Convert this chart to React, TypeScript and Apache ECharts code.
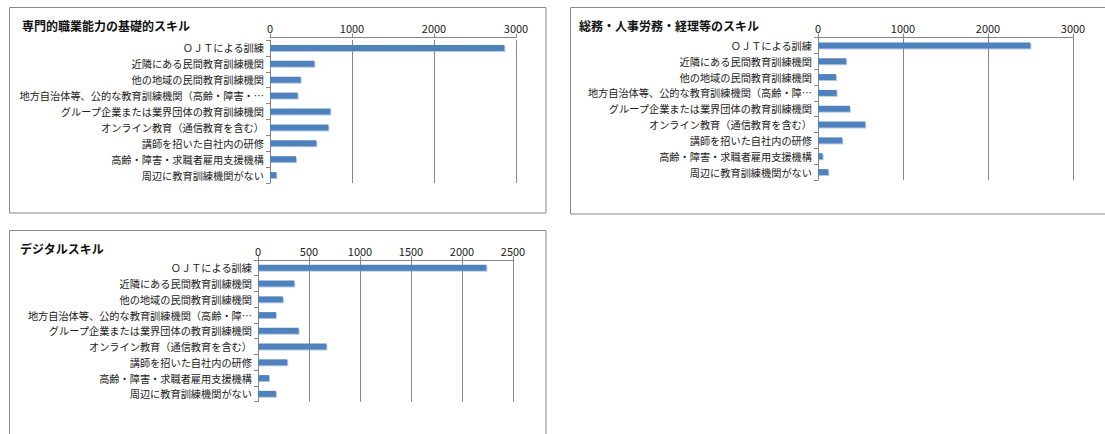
import React, { useEffect, useRef } from "react";
import * as echarts from "echarts";

const categoriesLong = [
  "ＯＪＴによる訓練",
  "近隣にある民間教育訓練機関",
  "他の地域の民間教育訓練機関",
  "地方自治体等、公的な教育訓練機関（高齢・障害・…",
  "グループ企業または業界団体の教育訓練機関",
  "オンライン教育（通信教育を含む）",
  "講師を招いた自社内の研修",
  "高齢・障害・求職者雇用支援機構",
  "周辺に教育訓練機関がない",
];
const categoriesShort = [
  "ＯＪＴによる訓練",
  "近隣にある民間教育訓練機関",
  "他の地域の民間教育訓練機関",
  "地方自治体等、公的な教育訓練機関（高齢・障…",
  "グループ企業または業界団体の教育訓練機関",
  "オンライン教育（通信教育を含む）",
  "講師を招いた自社内の研修",
  "高齢・障害・求職者雇用支援機構",
  "周辺に教育訓練機関がない",
];

const titles = ["専門的職業能力の基礎的スキル", "総務・人事労務・経理等のスキル", "デジタルスキル"];
const specialistValues = [2858, 541, 374, 337, 736, 711, 565, 317, 77];
const adminValues = [2499, 332, 211, 219, 375, 555, 285, 55, 121];
const digitalValues = [2239, 355, 244, 176, 398, 671, 287, 108, 176];
const axisMax = [3000, 3000, 2500];
const axisInterval = [1000, 1000, 500];

const FONT = "'Noto Sans CJK JP', 'Noto Sans', sans-serif";
const GRAY = "#868686";
const BAR = "#4F81BD";

export default function App() {
  const ref = useRef<HTMLDivElement>(null);

  useEffect(() => {
    if (!ref.current) return;
    const chart = echarts.init(ref.current, undefined, { renderer: "svg" });

    const grids = [
      { left: 270, top: 40, width: 246, height: 143 },
      { left: 818, top: 37.5, width: 255, height: 142.5 },
      { left: 258, top: 260, width: 255, height: 141.7 },
    ];
    const cats = [categoriesLong, categoriesShort, categoriesShort];
    const vals = [specialistValues, adminValues, digitalValues];
    const axisOffset = [2.5, 0, 0];

    const xAxis = grids.map((_, i) => ({
      type: "value",
      gridIndex: i,
      position: "top",
      min: 0,
      max: axisMax[i],
      interval: axisInterval[i],
      offset: axisOffset[i],
      axisLine: { show: true, lineStyle: { color: GRAY, width: 1 } },
      axisTick: { show: true, length: 4, lineStyle: { color: GRAY } },
      axisLabel: {
        color: "#222",
        fontSize: 11,
        fontFamily: FONT,
        margin: 4,
        formatter: (v: number) => String(v),
      },
      splitLine: { show: true, lineStyle: { color: GRAY, width: 1 } },
    }));

    const yAxis = grids.map((_, i) => ({
      type: "category",
      gridIndex: i,
      inverse: true,
      data: cats[i],
      axisLine: { show: true, lineStyle: { color: GRAY, width: 1 } },
      axisTick: { show: true, length: 4, lineStyle: { color: GRAY } },
      axisLabel: { color: "#222", fontSize: 10.2, fontFamily: FONT, margin: 6 },
      splitLine: { show: false },
    }));

    const series = grids.map((_, i) => ({
      type: "bar",
      xAxisIndex: i,
      yAxisIndex: i,
      data: vals[i],
      barWidth: 6,
      itemStyle: {
        color: BAR,
        shadowColor: "rgba(120,160,210,0.55)",
        shadowOffsetX: 1,
        shadowOffsetY: 1,
        shadowBlur: 1,
      },
    }));

    const borders = [
      { x: 9.5, y: 7.5, w: 536.5, h: 205.5 },
      { x: 570.5, y: 7.5, w: 600, h: 206.5 },
      { x: 9.5, y: 230.5, w: 536.5, h: 250 },
    ];
    const titlePos = [
      { x: 22, y: 25 },
      { x: 579, y: 25 },
      { x: 20, y: 248 },
    ];

    const graphic: any[] = [];
    borders.forEach((b) => {
      graphic.push({
        type: "rect",
        shape: { x: b.x, y: b.y, width: b.w, height: b.h },
        style: { fill: "none", stroke: "#8a8a8a", lineWidth: 1 },
        silent: true,
        z: -1,
      });
    });
    titles.forEach((t, i) => {
      graphic.push({
        type: "text",
        x: titlePos[i].x,
        y: titlePos[i].y,
        style: {
          text: t,
          fill: "#111",
          font: `bold 12px ${FONT}`,
          verticalAlign: "middle",
          align: "left",
        },
      });
    });

    chart.setOption({
      animation: false,
      backgroundColor: "#fff",
      grid: grids.map((g) => ({ ...g, containLabel: false })),
      xAxis,
      yAxis,
      series,
      graphic,
    } as any);

    return () => chart.dispose();
  }, []);

  return (
    <div
      ref={ref}
      style={{ position: "absolute", left: 0, top: 0, width: 1105, height: 434 }}
    />
  );
}
